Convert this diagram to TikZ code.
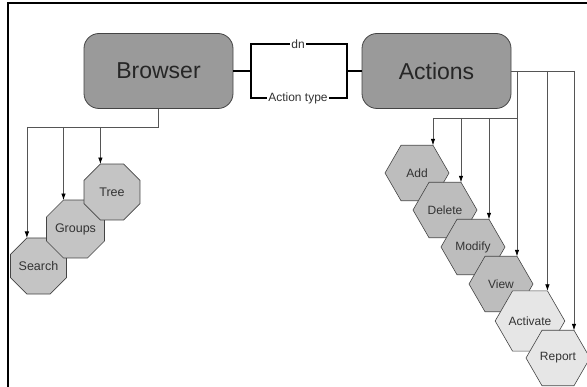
\documentclass[tikz,border=0pt]{standalone}
\usepackage{fontspec}
\setmainfont{Liberation Sans}
\usetikzlibrary{shapes.geometric,arrows.meta}

\definecolor{boxfill}{HTML}{9A9A9A}
\definecolor{octfill}{HTML}{C4C4C4}
\definecolor{hexdark}{HTML}{BDBDBD}
\definecolor{hexlight}{HTML}{E6E6E6}
\definecolor{edge}{HTML}{444444}
\definecolor{wire}{HTML}{555555}

\tikzset{
  bigbox/.style={draw=edge, line width=0.8pt, fill=boxfill, rounded corners=15pt,
    minimum width=149pt, minimum height=75pt, inner sep=0pt,
    font=\fontsize{23}{27}\selectfont, text=black!85},
  octa/.style={regular polygon, regular polygon sides=8, draw=edge, line width=0.6pt,
    fill=octfill, minimum size=60.6pt, inner sep=0pt, outer sep=0pt,
    font=\fontsize{12.5}{14}\selectfont, text=black!80},
  hexa/.style={regular polygon, regular polygon sides=6, draw=edge, line width=0.6pt,
    minimum size=64pt, inner sep=0pt, outer sep=0pt,
    font=\fontsize{12}{14}\selectfont, text=black!80},
  linkline/.style={draw=wire, line width=0.7pt},
  linkarrow/.style={linkline, -{Latex[length=6.5pt,width=4.5pt,black]}},
  brace/.style={draw=black, line width=2.2pt},
  bracelabel/.style={fill=white, inner sep=1pt, font=\fontsize{12}{14}\selectfont, text=black!80},
}

\begin{document}
\begin{tikzpicture}[x=1pt, y=-1pt]
  \useasboundingbox (0,0) rectangle (587,387);
  \clip (0,0) rectangle (587,387);

  % outer frame
  \draw[line width=1.4pt] (587,3) -- (8,3) -- (8,387);

  % main boxes
  \node[bigbox] (browser) at (158.5,71) {Browser};
  \node[bigbox] (actions) at (436.5,71) {Actions};

  % bracket between the boxes
  \coordinate (bl) at (251,71);
  \coordinate (br) at (347,71);
  \node[bracelabel] (dn) at (298,44) {dn};
  \node[bracelabel] (atype) at (298,98) {Action type};
  \draw[brace] (browser.east) -- (bl);
  \draw[brace] (actions.west) -- (br);
  \draw[brace] (dn.west) -| (bl) |- (atype.west);
  \draw[brace] (dn.east) -| (br) |- (atype.east);

  % browser children (octagons, entered at the left end of the top side)
  \node[octa] (search) at (38.5,266) {Search};
  \node[octa] (groups) at (75.5,229) {Groups};
  \node[octa] (tree) at (112,192) {Tree};

  % action children (hexagons, entered at the right end of the top side)
  \node[hexa, fill=hexdark] (add) at (417,173) {Add};
  \node[hexa, fill=hexdark] (delete) at (445,210) {Delete};
  \node[hexa, fill=hexdark] (modify) at (473,247) {Modify};
  \node[hexa, fill=hexdark] (view) at (501,284) {View};
  \node[hexa, fill=hexlight] (activate) at (530,321) {Activate};
  \node[hexa, fill=hexlight] (report) at (558,358) {Report};

  % browser connectors
  \coordinate (bh) at (0,127);
  \draw[linkline] (browser.south) |- (search.corner 2 |- bh);
  \draw[linkarrow] (search.corner 2 |- bh) -- (search.corner 2);
  \draw[linkarrow] (groups.corner 2 |- bh) -- (groups.corner 2);
  \draw[linkarrow] (tree.corner 2 |- bh) -- (tree.corner 2);

  % action connectors
  \coordinate (ah) at (0,118);
  \draw[linkline] (actions.east) -- (report.corner 1 |- actions.east);
  \draw[linkarrow] (report.corner 1 |- actions.east) -- (report.corner 1);
  \draw[linkarrow] (activate.corner 1 |- actions.east) -- (activate.corner 1);
  \draw[linkarrow] (view.corner 1 |- actions.east) -- (view.corner 1);
  \draw[linkline] (view.corner 1 |- ah) -- (add.corner 1 |- ah);
  \draw[linkarrow] (add.corner 1 |- ah) -- (add.corner 1);
  \draw[linkarrow] (delete.corner 1 |- ah) -- (delete.corner 1);
  \draw[linkarrow] (modify.corner 1 |- ah) -- (modify.corner 1);
\end{tikzpicture}
\end{document}
